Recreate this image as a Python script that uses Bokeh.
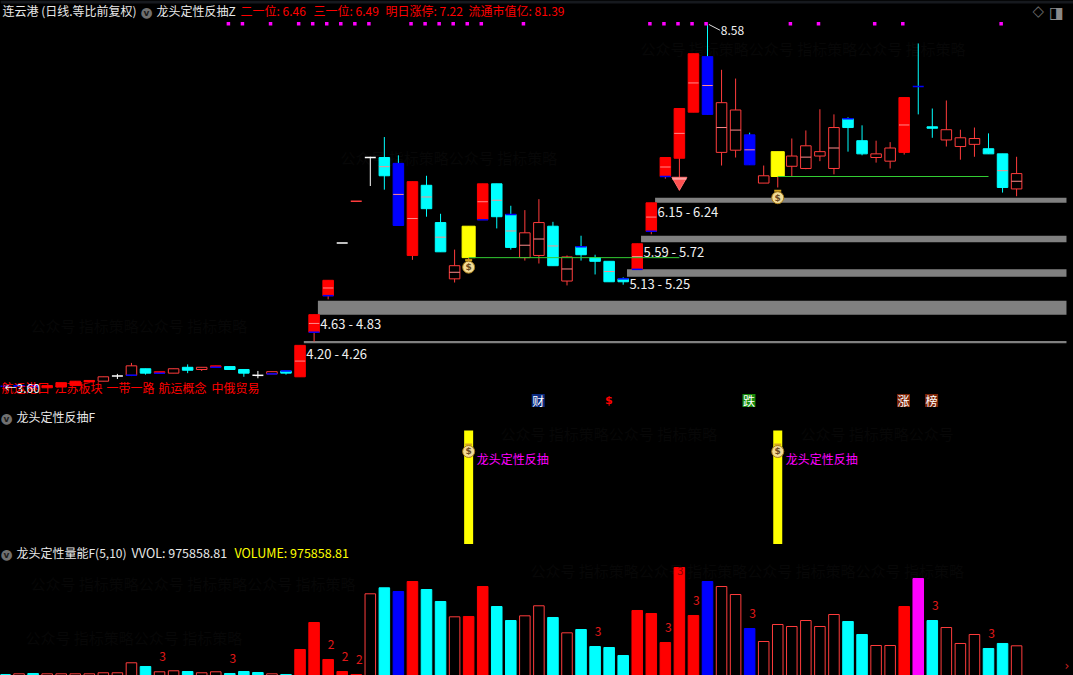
from bokeh.plotting import figure
from bokeh.layouts import column
from bokeh.models import Range1d, Label, BoxAnnotation, ColumnDataSource
from bokeh.core.properties import value
from bokeh.embed import file_html
from bokeh.resources import INLINE

# ---------- data ----------
opens = [3.63,3.64,3.64,3.64,3.68,3.70,3.71,3.76,3.77,3.78,3.87,3.81,3.81,3.89,3.86,3.89,3.90,3.86,3.78,3.80,3.84,
         3.76,4.37,4.87,5.59,6.16,6.76,6.76,6.68,5.42,6.38,5.87,5.10,5.39,5.91,6.40,5.98,5.39,5.42,5.82,5.07,5.54,5.39,
         5.34,5.10,5.23,5.75,6.50,6.75,7.38,7.35,6.83,6.86,6.66,6.41,6.50,6.64,6.61,6.78,6.61,7.29,6.99,6.76,6.71,6.83,
         7.73,7.18,7.00,6.91,6.94,6.88,6.81,6.33]
closes = [3.63,3.63,3.62,3.61,3.62,3.64,3.69,3.70,3.77,3.91,3.81,3.83,3.87,3.85,3.89,3.91,3.86,3.81,3.78,3.83,3.81,
          4.19,4.61,5.08,5.59,6.16,6.76,6.51,5.83,6.43,6.06,5.47,5.28,5.82,6.40,5.95,5.53,5.73,5.87,5.28,5.40,5.43,5.34,
          5.06,5.06,5.58,6.14,6.76,7.43,8.18,8.14,7.51,7.41,7.07,6.51,6.84,6.78,6.92,6.84,7.17,7.17,6.81,6.81,6.89,7.58,
          7.73,7.16,7.14,7.03,7.02,6.81,6.35,6.54]
highs = [3.65,3.64,3.64,3.64,3.68,3.70,3.71,3.76,3.80,3.95,3.87,3.83,3.87,3.93,3.89,3.91,3.90,3.86,3.84,3.83,3.84,
         4.19,4.61,5.08,5.59,6.16,6.77,7.04,6.79,6.43,6.51,5.99,5.50,5.82,6.40,6.40,6.10,6.04,6.19,5.88,5.42,5.69,5.43,
         5.34,5.12,5.58,6.14,6.76,7.43,8.18,8.58,7.96,7.84,7.10,6.65,6.84,7.02,7.13,7.42,7.35,7.31,7.20,6.99,6.97,7.58,
         8.32,7.43,7.54,7.14,7.17,7.09,6.81,6.77]
lows = [3.62,3.63,3.62,3.61,3.62,3.64,3.69,3.70,3.73,3.77,3.79,3.81,3.81,3.81,3.84,3.89,3.86,3.76,3.74,3.80,3.79,
        3.76,4.24,4.82,5.59,6.16,6.37,6.32,5.83,5.36,5.95,5.47,5.05,5.24,5.91,5.79,5.50,5.35,5.31,5.28,5.01,5.35,5.16,
        5.06,5.02,5.23,5.71,6.47,6.31,7.38,7.35,6.65,6.76,6.66,6.41,6.35,6.50,6.60,6.71,6.53,6.84,6.79,6.69,6.61,6.80,
        7.35,7.03,6.91,6.73,6.77,6.81,6.28,6.23]
kinds = ["blue","blue","blue","red","red","red","red","box","white","box","cyan","red","box","cyan","box","red","cyan","cyan","white","box","cyan",
         "red","red","red","white","red","white","cyan","blue","red","cyan","cyan","box","yellow","red","cyan","cyan","box","box","cyan","box","cyan","cyan",
         "cyan","cyan","red","red","red","red","red","blue","box","box","blue","box","yellow","box","box","box","box","cyan","cyan","box","box","red",
         "blue","cyan","box","box","box","cyan","cyan","box"]
volumes = [169000,188000,197000,188000,188000,188000,188000,217000,217000,498000,394000,245000,273000,253000,217000,245000,197000,253000,225000,188000,169000,
           872000,1631000,591000,253000,169000,2438000,2607000,2503000,2784000,2559000,2222000,1791000,1800000,2643000,2081000,1687000,1819000,2101000,1772000,1341000,1434000,956000,
           928000,703000,1969000,1884000,1069000,3178000,1828000,2784000,2643000,2418000,1462000,1097000,1575000,1519000,1687000,1519000,1856000,1659000,1294000,984000,984000,2081000,
           2868000,1687000,1490000,1041000,1294000,900000,1041000,975858.81]
vol_kinds = ["cyan","box","cyan","box","box","box","box","box","box","box","cyan","box","box","cyan","box","box","cyan","cyan","cyan","box","cyan",
             "red","red","red","red","red","box","cyan","blue","red","cyan","cyan","box","red","red","cyan","cyan","box","box","cyan","box","cyan","cyan",
             "cyan","cyan","red","red","red","red","red","blue","box","box","blue","box","box","box","box","box","box","cyan","cyan","box","box","red",
             "magenta","cyan","box","box","box","cyan","cyan","box"]
zone_idx = [21,22,44,45,46]
zone_low = [4.22,4.61,5.13,5.60,6.14]
zone_high = [4.25,4.80,5.23,5.69,6.21]
zone_text = ["4.20 - 4.26","4.63 - 4.83","5.13 - 5.25","5.59 - 5.72","6.15 - 6.24"]
zone_text_y = [4.08,4.49,5.03,5.47,6.02]
dot_idx = [16,17,19,21,22,23,24,25,26,29,30,31,32,33,34,37,46,47,48,49,50,56,58,62,64,71]
signal_idx = [33,55]
signal_price = [5.39,6.50]
signal_end = [48,70]
bag_price = [5.26,6.21]
gem_idx, gem_price = 48, 6.43
vol_mark_idx = [11,16,23,24,25,42,47,49,53,66,70]
vol_mark_txt = ["3","3","2","2","2","3","3","3","3","3","3"]
blue_bottom = [9,11,15,19,22,23,34,45,46,47]
blue_top = [20,36,41,44,60]
badges = [(38,"财","#0a2a80"),(53,"跌","#178a0c"),(64,"涨","#7a2408"),(66,"榜","#7a2408")]
concept_words = ["航运港口","江苏板块","一带一路","航运概念","中俄贸易"]
concept_x = [1,54,106,158,211]

# ---------- style ----------
BOX = "#ff3c3c"
FILL = {"box":"#000000","red":"#ff0000","cyan":"#00ffff","blue":"#0000ff","yellow":"#ffff00","white":"#ffffff","magenta":"#ff00ff"}
LINE = {"box":BOX,"red":"#ff0000","cyan":"#00ffff","blue":"#0000ff","yellow":"#ffff00","white":"#ffffff","magenta":"#ff00ff"}
WICK = {"box":BOX,"red":BOX,"cyan":"#00ffff","blue":"#00ffff","yellow":BOX,"white":"#ffffff"}
CJK = "Noto Sans CJK SC"
W, H1, H2, H3 = 1073, 408, 136, 131
PX = 14.05
ORIGIN = 4.5
x_rng = lambda: Range1d(-ORIGIN/PX, (W-ORIGIN)/PX)
n = len(opens)
xs = list(range(n))

def pane(h, y0, y1):
    p = figure(width=W, height=h, x_range=x_rng(), y_range=Range1d(y0, y1), output_backend="svg",
               toolbar_location=None, tools="", x_axis_location=None, y_axis_location=None,
               min_border=0, background_fill_color="#000000", border_fill_color="#000000",
               outline_line_color=None)
    p.xgrid.visible = False
    p.ygrid.visible = False
    return p

def lab(p, h, x, y, text, color="#e8e8e8", size="12px", font=CJK):
    p.add_layout(Label(x=x, y=h-y+1.5, x_units="screen", y_units="screen", text=text, text_color=color,
                       text_font_size=size, text_font=font, text_baseline="middle"))

def icon(p, h, x, y):
    p.add_layout(Label(x=x, y=h-y, x_units="screen", y_units="screen", text="●", text_color="#707070",
                       text_font_size="14px", text_font="DejaVu Sans", text_baseline="middle", text_align="center"))
    p.add_layout(Label(x=x, y=h-y-1, x_units="screen", y_units="screen", text="v", text_color="#1c1c1c",
                       text_font_size="9px", text_font="DejaVu Sans", text_font_style="bold",
                       text_baseline="middle", text_align="center"))

def watermark(p, h, rows, y_unit):
    # faint background text, drawn under every mark
    for x, y, t in rows:
        g = p.text(x=[(x-ORIGIN)/PX], y=[p.y_range.end-y*y_unit], text=[t], text_color="#070707",
                   text_font=value(CJK), text_font_size="15px", text_baseline="middle")
        g.level = "underlay"

# ---------- main pane ----------
price_top = 3.6 + 388/73.1
price_bot = 3.6 - 20/73.1
p1 = pane(H1, price_bot, price_top)
p1.add_layout(BoxAnnotation(bottom=price_top-3/73.1, fill_color="#16191e", fill_alpha=1, line_alpha=0))
watermark(p1, H1, [(340,157,"公众号 指标策略公众号 指标策略"),(640,48,"公众号 指标策略公众号 指标策略公众号 指标策略"),
                   (30,325,"公众号 指标策略公众号 指标策略")], 1/73.1)

p1.quad(left=[i+0.27 for i in zone_idx], right=[75.55]*len(zone_idx), bottom=zone_low, top=zone_high,
        fill_color="#808080", line_color=None)
p1.text(x=[i+0.44 for i in zone_idx], y=zone_text_y, text=zone_text, text_color="#f0f0f0",
        text_font=value(CJK), text_font_size="13px", text_baseline="middle")

p1.segment(x0=xs, x1=xs, y0=lows, y1=highs, line_color=[WICK[k] for k in kinds], line_width=1)
top_b = [max(a, b) for a, b in zip(opens, closes)]
bot_b = [min(a, b) for a, b in zip(opens, closes)]
doji = [i for i in xs if top_b[i]-bot_b[i] < 0.005]
body = [i for i in xs if i not in doji]
src = ColumnDataSource(dict(
    x=body, top=[top_b[i] for i in body], bottom=[bot_b[i] for i in body],
    w=[0.93 if kinds[i] == "yellow" else 0.75 for i in body],
    fc=[FILL[kinds[i]] for i in body], lc=[LINE[kinds[i]] for i in body]))
p1.vbar(x="x", top="top", bottom="bottom", width="w", fill_color="fc", line_color="lc", line_width=1, source=src)
p1.segment(x0=[i-0.39 for i in doji], x1=[i+0.39 for i in doji],
           y0=[opens[i] for i in doji], y1=[closes[i] for i in doji],
           line_color=[{"red":BOX}.get(kinds[i], LINE[kinds[i]]) for i in doji], line_width=1.5)
mid = [i for i in body if top_b[i]-bot_b[i] >= 0.17 and kinds[i] != "yellow" and i not in (61, 63)]
p1.segment(x0=[i-0.37 for i in mid], x1=[i+0.37 for i in mid],
           y0=[(top_b[i]+bot_b[i])/2 for i in mid], y1=[(top_b[i]+bot_b[i])/2 for i in mid],
           line_color="#ff8a8a", line_width=1)
p1.segment(x0=[i-0.38 for i in blue_bottom], x1=[i+0.38 for i in blue_bottom],
           y0=[bot_b[i] for i in blue_bottom], y1=[bot_b[i] for i in blue_bottom], line_color="#0000ff", line_width=1.5)
p1.segment(x0=[i-0.38 for i in blue_top], x1=[i+0.38 for i in blue_top],
           y0=[top_b[i] for i in blue_top], y1=[top_b[i] for i in blue_top], line_color="#0000ff", line_width=1.5)

p1.segment(x0=signal_idx, x1=signal_end, y0=signal_price, y1=signal_price, line_color="#33cc33", line_width=1)
p1.rect(x=[i-0.1 for i in dot_idx], y=[8.59]*len(dot_idx), width=3.5/PX, height=3.5/73.1,
        fill_color="#ff00ff", line_color=None)

def bag(p, x, y, px_unit):
    p.scatter(x=x, y=[v+7*px_unit for v in y], marker="dash", size=7, line_color="#d8a820", line_width=2)
    p.scatter(x=x, y=y, marker="circle", size=12, fill_color="#f2dc96", line_color="#a87c18", line_width=1)
    p.text(x=x, y=y, text=["$"]*len(x), text_color="#6b4a20", text_font=value("DejaVu Sans"),
           text_font_style="bold", text_font_size="9px", text_align="center", text_baseline="middle")

bag(p1, signal_idx, bag_price, 1/73.1)
p1.scatter(x=[gem_idx], y=[gem_price], marker="inverted_triangle", size=15, fill_color="#ff5050", line_color="#ff7070")
p1.scatter(x=[gem_idx], y=[gem_price+3/73.1], marker="dash", size=14, line_color="#ffa0a0", line_width=2)

# peak mark
p1.segment(x0=[50.1], x1=[50.9], y0=[8.58], y1=[8.50], line_color="#dddddd", line_width=1)
p1.text(x=[50.95], y=[8.50], text=["8.58"], text_color="#f0f0f0", text_font=value(CJK),
        text_font_size="12px", text_baseline="middle")

# concept row and low mark
for cx, word in zip(concept_x, concept_words):
    lab(p1, H1, cx, 388.5, word, color="#ff0000", size="12px")
lab(p1, H1, 4, 388, "←3.60", color="#f0f0f0", size="12px")

# badges
for i, t, c in badges:
    p1.rect(x=[i-0.05], y=[3.436], width=13/PX, height=13/73.1, fill_color=c, line_color=None)
    p1.text(x=[i-0.05], y=[3.436], text=[t], text_color="#ffffff", text_font=value(CJK), text_font_size="12px",
            text_align="center", text_baseline="middle")
p1.text(x=[42.97], y=[3.436], text=["$"], text_color="#ff0000", text_font=value("DejaVu Sans"),
        text_font_style="bold", text_font_size="11px", text_align="center", text_baseline="middle")

# header row
lab(p1, H1, 2, 11.5, "连云港 (日线.等比前复权)")
icon(p1, H1, 146, 11)
lab(p1, H1, 156, 11.5, "龙头定性反抽Z")
for x, t in [(240, "二一位: 6.46"), (313, "三一位: 6.49"), (385, "明日涨停: 7.22"), (468, "流通市值亿: 81.39")]:
    lab(p1, H1, x, 11.5, t, color="#ff0000")
lab(p1, H1, 1032, 12, "◇", color="#6a6a6a", size="15px", font="DejaVu Sans")
p1.add_layout(Label(x=1056, y=H1-12, x_units="screen", y_units="screen", text="◨", text_color="#8a8a8a",
                    text_font_size="16px", text_font="DejaVu Sans", text_baseline="middle", text_align="center"))

# ---------- signal pane ----------
p2 = pane(H2, 0, H2/114)
watermark(p2, H2, [(500,25,"公众号 指标策略公众号 指标策略"),(800,25,"公众号 指标策略公众号")], 1/114)
p2.vbar(x=signal_idx, bottom=0, top=1, width=9/PX, fill_color="#ffff00", line_color=None)
bag(p2, signal_idx, [0.816, 0.816], 1/114)
p2.text(x=signal_idx, y=[0.754, 0.754], text=["龙头定性反抽"]*len(signal_idx), text_color="#ff00ff",
        text_font=value(CJK), text_font_size="12px", text_baseline="middle", x_offset=8)
icon(p2, H2, 6, 9)
lab(p2, H2, 16, 9.5, "龙头定性反抽F")

# ---------- volume pane ----------
per_px = 975858.81/34.7
p3 = pane(H3, 5*per_px, (680-544)*per_px)
watermark(p3, H3, [(30,39,"公众号 指标策略公众号 指标策略公众号 指标策略"),(530,26,"公众号 指标策略公众号 指标策略公众号 指标策略公众号 指标策略"),
                   (25,93,"公众号 指标策略公众号 指标策略")], per_px)
vsrc = ColumnDataSource(dict(x=xs, top=volumes, fc=[FILL[k] for k in vol_kinds], lc=[LINE[k] for k in vol_kinds]))
p3.vbar(x="x", bottom=0, top="top", width=0.75, fill_color="fc", line_color="lc", line_width=1, source=vsrc)
p3.text(x=vol_mark_idx, y=[volumes[i] for i in vol_mark_idx], text=vol_mark_txt, text_color="#e01818",
        text_font=value(CJK), text_font_size="12px", text_align="center", text_baseline="middle",
        x_offset=3, y_offset=-15)
p3.text(x=[48], y=[volumes[48]], text=["3"], text_color="#8a0000", text_font=value(CJK), text_font_size="11px",
        text_align="center", text_baseline="top", x_offset=1)
icon(p3, H3, 6, 9)
lab(p3, H3, 16, 9.5, "龙头定性量能F(5,10)")
lab(p3, H3, 131, 9.5, "VVOL: 975858.81", size="12.5px")
lab(p3, H3, 234, 9.5, "VOLUME: 975858.81", color="#ffff00", size="12.5px")
lab(p3, H3, 1064, 123, "›", color="#cc2020", size="12px", font="DejaVu Sans")

page = column(p1, p2, p3, spacing=0, styles={"position": "fixed", "left": "0px", "top": "0px",
                                             "background-color": "#000000"})
open("out.html", "w").write(file_html(page, INLINE))
